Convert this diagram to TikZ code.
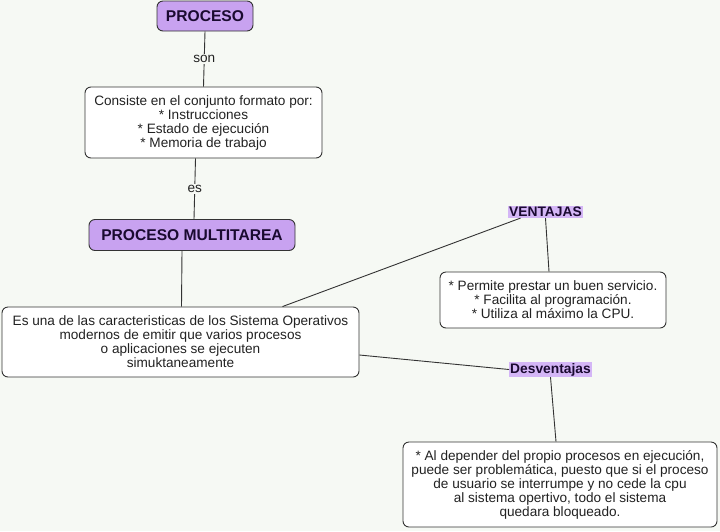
\documentclass[tikz,border=0pt]{standalone}
\usepackage{fontspec}
\setmainfont{Liberation Sans}
\definecolor{bgc}{HTML}{F6F9F4}
\definecolor{purp}{HTML}{C8A2F0}
\definecolor{lpurp}{HTML}{D4B6F6}
\definecolor{edge}{HTML}{333333}
\definecolor{txt}{HTML}{222222}
\definecolor{ttl}{HTML}{1A0A30}
\tikzset{
  box/.style={draw=edge, line width=0.9pt, rounded corners=6pt, fill=white, align=center, inner sep=0pt, text=txt, font=\fontsize{13.6}{14}\selectfont},
  title/.style={draw=edge, line width=0.9pt, rounded corners=6pt, fill=purp, align=center, inner sep=0pt, text=ttl, font=\fontsize{15.6}{17}\selectfont\bfseries},
  tag/.style={fill=lpurp, inner xsep=1pt, inner ysep=1pt, text=ttl, font=\fontsize{13.8}{15}\selectfont\bfseries},
  lbl/.style={fill=bgc, inner sep=1.5pt, text=txt, font=\fontsize{13.6}{14}\selectfont},
  conn/.style={draw=edge, line width=0.9pt}
}
\begin{document}
\begin{tikzpicture}[x=1pt,y=-1pt]
\fill[bgc] (0,0) rectangle (720,531);
\useasboundingbox (0,0) rectangle (720,531);
\node[title, minimum width=96pt, minimum height=30pt] (p) at (205,16) {PROCESO};
\node[box, minimum width=237pt, minimum height=71pt] (b1) at (203.5,122.5) {Consiste en el conjunto formato por:\\ * Instrucciones\\ * Estado de ejecución\\ * Memoria de trabajo};
\node[title, minimum width=206pt, minimum height=31pt] (pm) at (192,235) {PROCESO MULTITAREA};
\node[box, minimum width=357pt, minimum height=70pt] (b2) at (180.5,342) {Es una de las caracteristicas de los Sistema Operativos\\ modernos de emitir que varios procesos\\ o aplicaciones se ejecuten\\ simuktaneamente};
\node[tag] (v) at (545.5,212) {VENTAJAS};
\node[box, minimum width=226pt, minimum height=56pt] (b3) at (553,300) {* Permite prestar un buen servicio.\\ * Facilita al programación.\\ * Utiliza al máximo la CPU.};
\node[tag] (d) at (550.5,369.5) {Desventajas};
\node[box, minimum width=314pt, minimum height=85pt] (b4) at (560,484.5) {* Al depender del propio procesos en ejecución,\\ puede ser problemática, puesto que si el proceso\\ de usuario se interrumpe y no cede la cpu\\ al sistema opertivo, todo el sistema\\ quedara bloqueado.};
\draw[conn] (p.south) -- node[lbl] {son} (b1.north);
\draw[conn] ([xshift=-8pt]b1.south) -- node[lbl] {es} ([xshift=2pt]pm.north);
\draw[conn] ([xshift=-10pt]pm.south) -- ([xshift=1pt]b2.north);
\draw[conn] ([xshift=102pt]b2.north) -- ([xshift=-25pt]v.south);
\draw[conn] (v.south) -- ([xshift=-4pt]b3.north);
\draw[conn] ([yshift=-13pt]b2.east) -- (d.west);
\draw[conn] (d.south) -- ([xshift=-4pt]b4.north);
\end{tikzpicture}
\end{document}
